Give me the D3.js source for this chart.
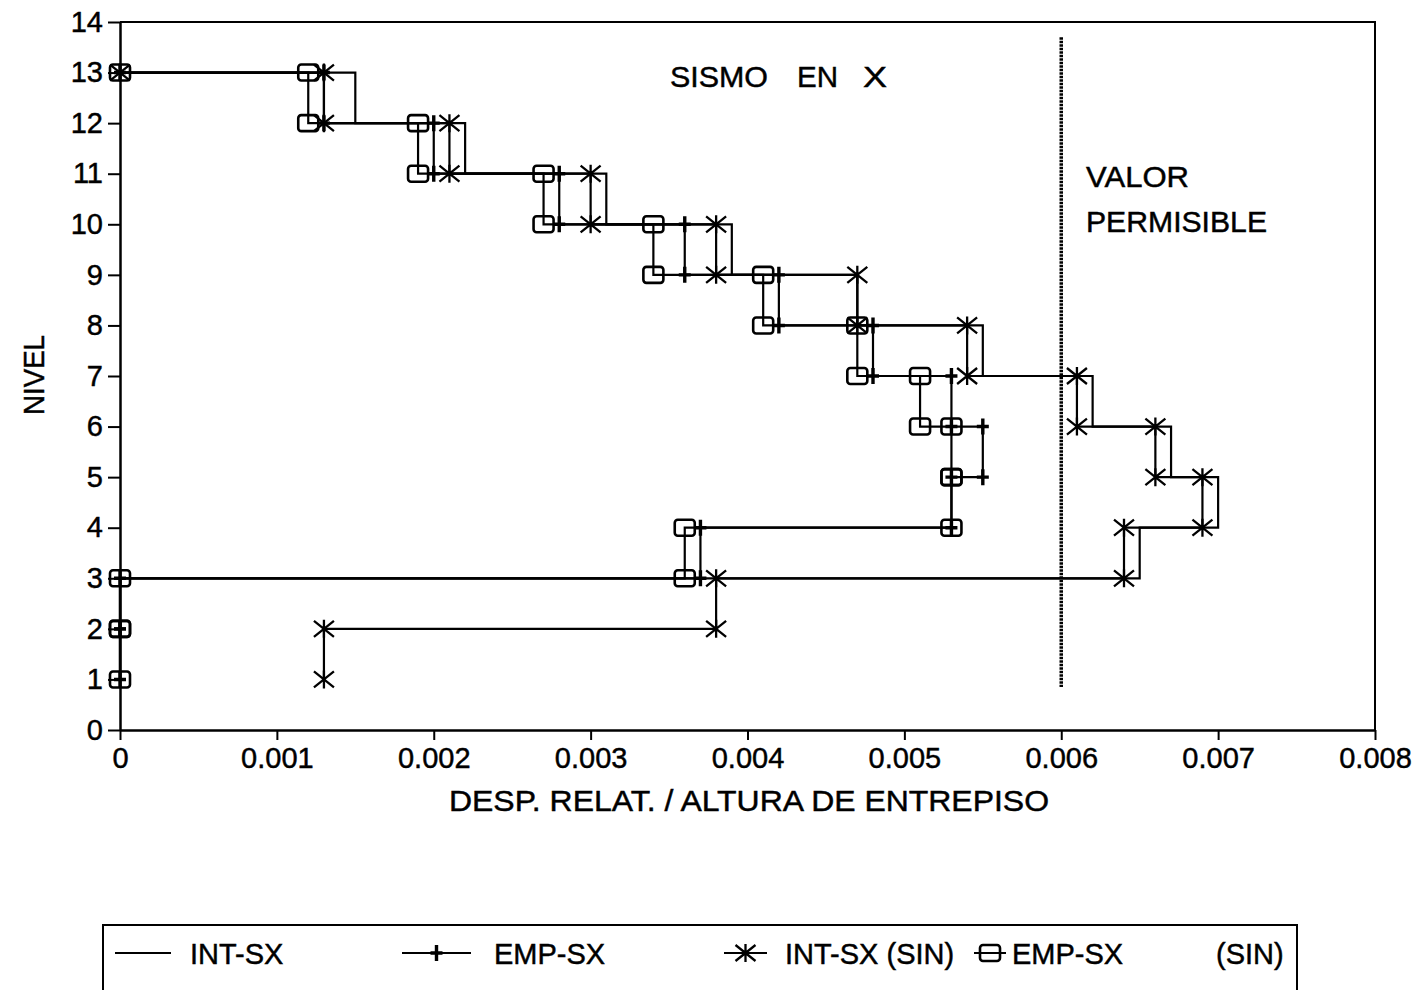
<!DOCTYPE html>
<html><head><meta charset="utf-8">
<script src="https://cdn.jsdelivr.net/npm/d3@7"></script>
<style>
body{margin:0;background:#fff;}
text{font-family:"Liberation Sans",Arial,Helvetica,sans-serif;fill:#000;stroke:#000;stroke-width:0.45px;}
</style></head>
<body>
<svg id="chart" width="1421" height="990"></svg>
<script>
// ---- data ----
const stories = [13,12,11,10,9,8,7,6,5,4,3,2];           // step from level k down to k-1
const intSX    = [0.0015,0.0022,0.0031,0.0039,0.0047,0.0055,0.0062,0.0067,0.0070,0.0065,0,0];
const empSX    = [0.0013,0.0020,0.0028,0.0036,0.0042,0.0048,0.0053,0.0055,0.0053,0.0037,0,0];
const intSXsin = [0.0013,0.0021,0.0030,0.0038,0.0047,0.0054,0.0061,0.0066,0.0069,0.0064,0.0038,0.0013];
const empSXsin = [0.0012,0.0019,0.0027,0.0034,0.0041,0.0047,0.0051,0.0053,0.0053,0.0036,0,0];
const seriesNames = ["INT-SX","EMP-SX","INT-SX (SIN)","EMP-SX"];
const xTicks = [0,0.001,0.002,0.003,0.004,0.005,0.006,0.007,0.008];
const yTicks = [0,1,2,3,4,5,6,7,8,9,10,11,12,13,14];
const valorX = 0.006;
const valorLevels = [0.85, 13.7];

const svg = d3.select("#chart");
const x = d3.scaleLinear().domain([0,0.008]).range([120,1375]);
const y = d3.scaleLinear().domain([0,14]).range([730,22]);

// frame
svg.append("path")
  .attr("d", `M${x(0)},${y(14)}H${x(0.008)}V${y(0)}`)
  .attr("fill","none").attr("stroke","#000").attr("stroke-width",2);

// axes
const ya = svg.append("g").attr("transform",`translate(${x(0)},0)`)
  .call(d3.axisLeft(y).tickValues(yTicks).tickSize(12).tickSizeOuter(0).tickPadding(5).tickFormat(d3.format("d")));
const xa = svg.append("g").attr("transform",`translate(0,${y(0)})`)
  .call(d3.axisBottom(x).tickValues(xTicks).tickSize(10).tickSizeOuter(0).tickPadding(7)
    .tickFormat(d => d === 0 ? "0" : d3.format(".3f")(d)));
[ya,xa].forEach(a=>{
  a.select(".domain").attr("stroke-width",2.5);
  a.selectAll(".tick line").attr("stroke-width",2);
  a.selectAll(".tick text").attr("font-size",29).attr("font-family","Liberation Sans, Arial, sans-serif")
    .attr("stroke","#000").attr("stroke-width",0.6);
});

// valor permisible line
svg.append("line")
  .attr("x1",x(valorX)).attr("x2",x(valorX))
  .attr("y1",y(valorLevels[1])).attr("y2",y(valorLevels[0]))
  .attr("stroke","#000").attr("stroke-width",3.5).attr("stroke-dasharray","2.5 1");

// step points
function stepPoints(vals){
  const pts = [[0, stories[0]]];
  stories.forEach((k,i)=>{ pts.push([vals[i],k]); pts.push([vals[i],k-1]); });
  return pts;
}
const line = d3.line().x(d=>x(d[0])).y(d=>y(d[1]));

const seriesData = [intSX, empSX, intSXsin, empSXsin];
const markerTypes = [null,"plus","star","square"];

function drawMarker(g, type, cx, cy){
  if(type==="square"){
    g.append("rect").attr("x",cx-10).attr("y",cy-8).attr("width",20).attr("height",16).attr("rx",3)
      .attr("fill","none").attr("stroke","#000").attr("stroke-width",2.6);
  } else if(type==="plus"){
    g.append("path").attr("d",`M${cx},${cy-8}V${cy+8}M${cx-6},${cy}H${cx+6}`)
      .attr("stroke","#000").attr("stroke-width",3.4).attr("fill","none");
  } else if(type==="star"){
    g.append("path").attr("d",`M${cx},${cy-9}V${cy+9}M${cx-10},${cy-8}L${cx+10},${cy+8}M${cx-10},${cy+8}L${cx+10},${cy-8}`)
      .attr("stroke","#000").attr("stroke-width",2.3).attr("fill","none");
  }
}

seriesData.forEach((vals,si)=>{
  const pts = stepPoints(vals);
  svg.append("path").datum(pts).attr("d",line)
    .attr("fill","none").attr("stroke","#000").attr("stroke-width",2.2).attr("stroke-linejoin","miter");
});
seriesData.forEach((vals,si)=>{
  if(!markerTypes[si]) return;
  const g = svg.append("g");
  stepPoints(vals).forEach(p=>drawMarker(g, markerTypes[si], x(p[0]), y(p[1])));
});

// texts
const t = (s,xx,yy,opts={})=>{
  const e = svg.append("text").attr("x",xx).attr("y",yy).attr("font-size",opts.size||29).text(s);
  if(opts.len) e.attr("textLength",opts.len).attr("lengthAdjust","spacingAndGlyphs");
  return e;
};
t("SISMO",670,87,{size:30,len:98});
t("EN",797,87,{size:30,len:41});
t("X",863,87,{size:30,len:24});
t("VALOR",1086,187,{size:29,len:103});
t("PERMISIBLE",1086,232,{size:29,len:181});
t("DESP.  RELAT. / ALTURA DE ENTREPISO",449,811,{size:29,len:600});
svg.append("text").attr("transform","translate(44,375) rotate(-90)").attr("text-anchor","middle")
  .attr("font-size",29).attr("textLength",80).attr("lengthAdjust","spacingAndGlyphs").text("NIVEL");

// legend
svg.append("rect").attr("x",103).attr("y",925).attr("width",1194).attr("height",120)
  .attr("fill","none").attr("stroke","#000").attr("stroke-width",2);
const legendItems = [
  {x1:115,x2:171,tx:190},
  {x1:402,x2:471,tx:494},
  {x1:724,x2:767,tx:785},
  {x1:974,x2:1006,tx:1012}
];
const lg = svg.append("g");
legendItems.forEach((it,i)=>{
  lg.append("line").attr("x1",it.x1).attr("x2",it.x2).attr("y1",953).attr("y2",953)
    .attr("stroke","#000").attr("stroke-width",2);
  if(markerTypes[i]) drawMarker(lg, markerTypes[i], (it.x1+it.x2)/2, 953);
  lg.append("text").attr("x",it.tx).attr("y",964).attr("font-size",29).text(seriesNames[i]);
});
lg.append("text").attr("x",1216).attr("y",964).attr("font-size",29).text("(SIN)");
</script>
</body></html>
